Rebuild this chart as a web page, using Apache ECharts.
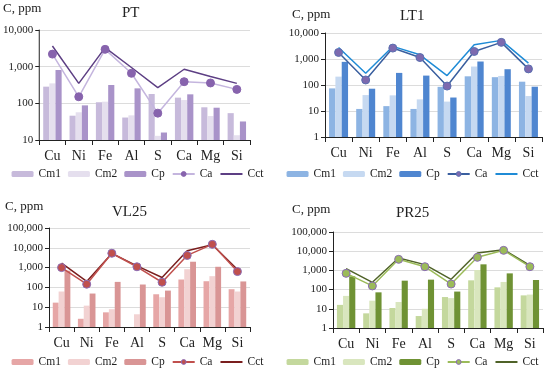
<!DOCTYPE html>
<html>
<head>
<meta charset="utf-8">
<script src="https://cdn.jsdelivr.net/npm/echarts@6/dist/echarts.min.js"></script>
<style>
html,body{margin:0;padding:0;background:#fff;}
.c{position:absolute;width:275px;height:188px;}
</style>
</head>
<body>
<div id="pt" class="c" style="left:0;top:0"></div>
<div id="lt" class="c" style="left:275px;top:0"></div>
<div id="vl" class="c" style="left:0;top:188px"></div>
<div id="pr" class="c" style="left:275px;top:188px"></div>
<script>
const categories = ['Cu','Ni','Fe','Al','S','Ca','Mg','Si'];

// PT
const PT_Cm1 = [285, 46, 107, 41, 180, 143, 78, 54];
const PT_Cm2 = [350, 57, 111, 47, 13, 123, 45, 13.5];
const PT_Cp  = [810, 88, 316, 256, 16, 176, 76, 32];
const PT_Ca  = [2200, 151, 2970, 660, 54, 389, 359, 240];
const PT_Cct = [3650, 350, 3300, 950, 267, 850, 540, 350];

// LT1
const LT_Cm1 = [74, 12, 15.4, 12, 85, 216, 200, 134];
const LT_Cm2 = [210, 41, 40, 28, 23, 513, 223, 37.6];
const LT_Cp  = [777, 72, 292, 230, 33, 800, 405, 86];
const LT_Ca  = [1786, 156, 2630, 1140, 91, 1950, 4360, 417];
const LT_Cct = [2786, 283, 3050, 1450, 230, 3540, 5200, 690];

// VL25
const VL_Cm1 = [17, 2.6, 5.5, null, 45, 250, 205, 81];
const VL_Cm2 = [62, 12, 7.9, 4.4, 32, 830, 370, 62];
const VL_Cp  = [700, 49, 190, 140, 69, 1980, 1100, 200];
const VL_Ca  = [1000, 145, 5300, 1100, 182, 4120, 15000, 630];
const VL_Cct = [1690, 200, 5200, 1230, 316, 7080, 14300, 800];

// PR25
const PR_Cm1 = [16, 5.8, 11, 4.2, 41, 304, 131, 50];
const PR_Cm2 = [47, 26.5, 22.6, 10, 36, 1050, 250, 55];
const PR_Cp  = [490, 72, 292, 330, 79, 2070, 700, 316];
const PR_Ca  = [700, 155, 3770, 1560, 195, 4790, 11100, 1560];
const PR_Cct = [1230, 240, 4430, 2000, 343, 8050, 12000, 1840];

const FONT = 'Liberation Serif';

function make(id, cfg){
  const ch = echarts.init(document.getElementById(id), null, {renderer:'canvas'});
  const series = [
    {name:'Cm1', type:'bar', data:cfg.cm1, itemStyle:{color:cfg.c.cm1}, barGap:'0%', barCategoryGap:'30%'},
    {name:'Cm2', type:'bar', data:cfg.cm2, itemStyle:{color:cfg.c.cm2}, barGap:'0%', barCategoryGap:'30%'},
    {name:'Cp',  type:'bar', data:cfg.cp,  itemStyle:{color:cfg.c.cp},  barGap:'0%', barCategoryGap:'30%'},
    {name:'Ca', type:'line', data:cfg.ca, symbol:'circle', symbolSize:8,
      lineStyle:{color:cfg.c.caLine, width:1.5},
      itemStyle:{color:cfg.c.caFill, borderColor:cfg.c.caBorder, borderWidth:1}, z:5},
    {name:'Cct', type:'line', data:cfg.cct, symbol:'none',
      lineStyle:{color:cfg.c.cct, width:1.5}, itemStyle:{color:cfg.c.cct}, z:4}
  ];
  ch.setOption({
    animation:false,
    textStyle:{fontFamily:FONT},
    grid:cfg.grid,
    graphic:[
      {type:'text', left:cfg.unit[0], top:cfg.unit[1], style:{text:'C, ppm', font:'13px '+FONT, fill:'#222'}},
      {type:'text', left:cfg.title[0], top:cfg.title[1], style:{text:cfg.name, font:'15px '+FONT, fill:'#222'}}
    ],
    legend:{data:['Cm1','Cm2','Cp',
        {name:'Ca', itemStyle:{color:cfg.c.caFill, borderColor:cfg.c.caBorder, borderWidth:1}},
        {name:'Cct', itemStyle:{color:'rgba(0,0,0,0)', borderWidth:0, opacity:0}}],
      bottom:3, left:'center', itemWidth:22, itemHeight:6, itemGap:7,
      textStyle:{fontFamily:FONT, fontSize:11.5, color:'#222'}},
    xAxis:{type:'category', data:categories,
      axisLine:{lineStyle:{color:'#222', width:1}},
      axisTick:{show:true, length:5, lineStyle:{color:'#222'}},
      axisLabel:{fontFamily:FONT, fontSize:14, color:'#222', margin:9, interval:0}},
    yAxis:{type:'log', logBase:10, min:cfg.min, max:cfg.max,
      axisLine:{show:true, lineStyle:{color:'#222', width:1}},
      axisTick:{show:true, length:4, lineStyle:{color:'#222'}},
      splitLine:{lineStyle:{color:'#dcdcdc'}},
      minorTick:{show:false},
      axisLabel:{fontFamily:FONT, fontSize:11, color:'#222', margin:6,
        formatter:v=>Number(v).toLocaleString('en-US')}},
    series:series
  });
}

make('pt', {name:'PT', cm1:PT_Cm1, cm2:PT_Cm2, cp:PT_Cp, ca:PT_Ca, cct:PT_Cct,
  min:10, max:10000, grid:{left:38, right:25, top:30, bottom:48},
  unit:[3,2], title:[122,6],
  c:{cm1:'#c7badb', cm2:'#e5dfee', cp:'#a993c9', caLine:'#c4b5de', caFill:'#8763ad', caBorder:'#8763ad', cct:'#5d3f84'}});

make('lt', {name:'LT1', cm1:LT_Cm1, cm2:LT_Cm2, cp:LT_Cp, ca:LT_Ca, cct:LT_Cct,
  min:1, max:10000, grid:{left:50, right:8, top:33, bottom:51},
  unit:[17,8], title:[125,9],
  c:{cm1:'#8db4e3', cm2:'#c6d9f1', cp:'#4f86d0', caLine:'#3a5f9f', caFill:'#7d6aaf', caBorder:'#5a6fb0', cct:'#1f8bd6'}});

make('vl', {name:'VL25', cm1:VL_Cm1, cm2:VL_Cm2, cp:VL_Cp, ca:VL_Ca, cct:VL_Cct,
  min:1, max:100000, grid:{left:49, right:25, top:40, bottom:49},
  unit:[5,12], title:[112,17],
  c:{cm1:'#e6a6a6', cm2:'#f2d2d2', cp:'#d99595', caLine:'#c0504d', caFill:'#c0504d', caBorder:'#8a6bb5', cct:'#7a1e1e'}});

make('pr', {name:'PR25', cm1:PR_Cm1, cm2:PR_Cm2, cp:PR_Cp, ca:PR_Ca, cct:PR_Cct,
  min:1, max:100000, grid:{left:58, right:7, top:44, bottom:48},
  unit:[17,15], title:[121,18],
  c:{cm1:'#c4d89d', cm2:'#d9e6be', cp:'#6f9234', caLine:'#9bbb59', caFill:'#9bbb59', caBorder:'#8a6bb5', cct:'#4f6228'}});
</script>
</body>
</html>
